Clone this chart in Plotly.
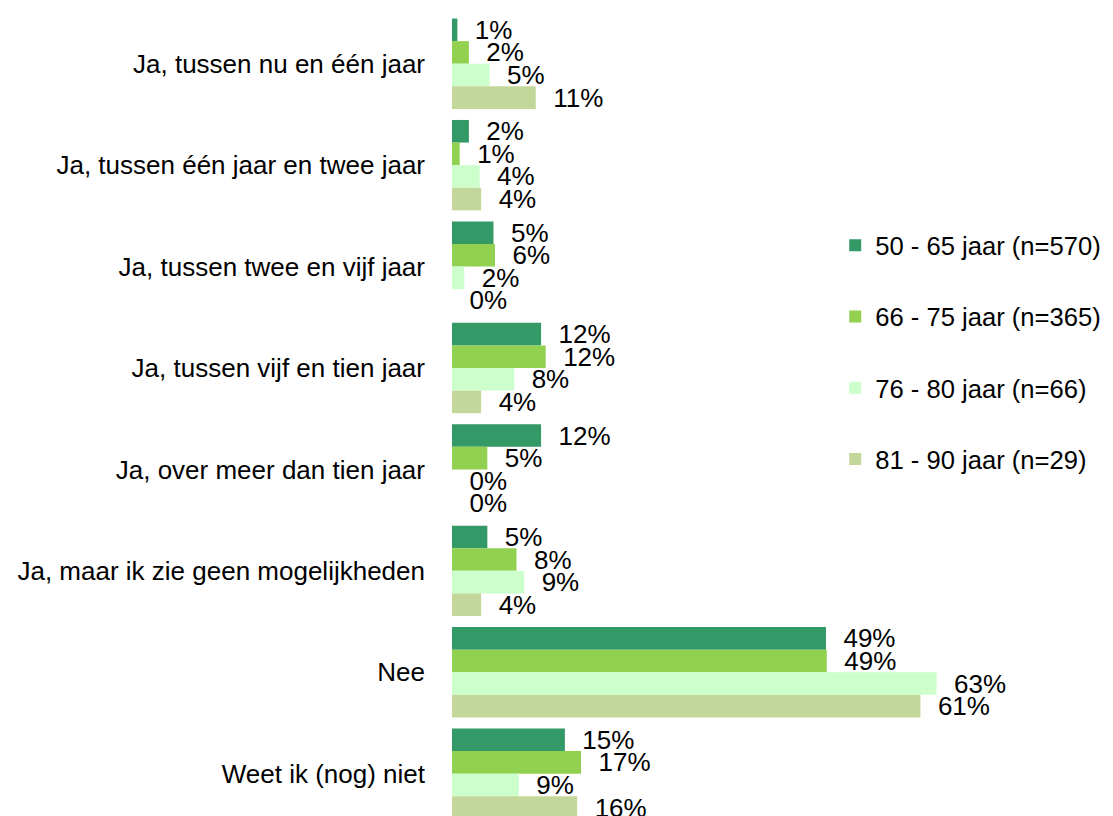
import plotly.graph_objects as go

categories = [
    "Ja, tussen nu en één jaar",
    "Ja, tussen één jaar en twee jaar",
    "Ja, tussen twee en vijf jaar",
    "Ja, tussen vijf en tien jaar",
    "Ja, over meer dan tien jaar",
    "Ja, maar ik zie geen mogelijkheden",
    "Nee",
    "Weet ik (nog) niet",
]

series_names = [
    "50 - 65 jaar (n=570)",
    "66 - 75 jaar (n=365)",
    "76 - 80 jaar (n=66)",
    "81 - 90 jaar (n=29)",
]

vals_50_65 = [0.7, 2.2, 5.4, 11.6, 11.6, 4.6, 48.7, 14.7]
vals_66_75 = [2.2, 1.0, 5.6, 12.2, 4.6, 8.4, 48.8, 16.8]
vals_76_80 = [4.9, 3.6, 1.6, 8.1, 0.0, 9.4, 63.1, 8.7]
vals_81_90 = [10.9, 3.8, 0.0, 3.8, 0.0, 3.8, 61.0, 16.3]

series_values = [vals_50_65, vals_66_75, vals_76_80, vals_81_90]
colors = ["#339966", "#92D050", "#CCFFCC", "#C4D79B"]

FONT = "Liberation Sans, Arial, sans-serif"
FS = 26
LEG_FS = 25.6

fig = go.Figure()
for i, (name, vals, col) in enumerate(zip(series_names, series_values, colors)):
    fig.add_trace(go.Bar(
        y=categories,
        x=vals,
        name=name,
        orientation="h",
        marker=dict(color=col, line=dict(width=0)),
        texttemplate="\u00a0\u00a0%{x:.0f}%",
        textposition="outside",
        textfont=dict(family=FONT, size=FS, color="black"),
        constraintext="none",
        cliponaxis=False,
        legendgroup=f"g{i}",
    ))

fig.update_layout(
    width=1097,
    height=808,
    barmode="group",
    bargap=0.109,
    bargroupgap=0,
    paper_bgcolor="white",
    plot_bgcolor="white",
    margin=dict(l=444, r=5, t=5, b=0, pad=0, autoexpand=False),
    font=dict(family=FONT, size=FS, color="black"),
    showlegend=True,
    legend=dict(
        x=0.5914,
        xanchor="left",
        y=0.7397,
        yanchor="top",
        font=dict(family=FONT, size=LEG_FS, color="black"),
        tracegroupgap=35,
        bgcolor="rgba(0,0,0,0)",
    ),
    xaxis=dict(
        range=[0, 84.38],
        visible=False,
        showgrid=False,
        zeroline=False,
        automargin=False,
    ),
    yaxis=dict(
        range=[7.417, -0.5],
        showgrid=False,
        zeroline=False,
        showline=False,
        ticks="",
        automargin=False,
        ticklabelstandoff=26,
        tickfont=dict(family=FONT, size=FS, color="black"),
    ),
)

fig.write_html("out.html")
